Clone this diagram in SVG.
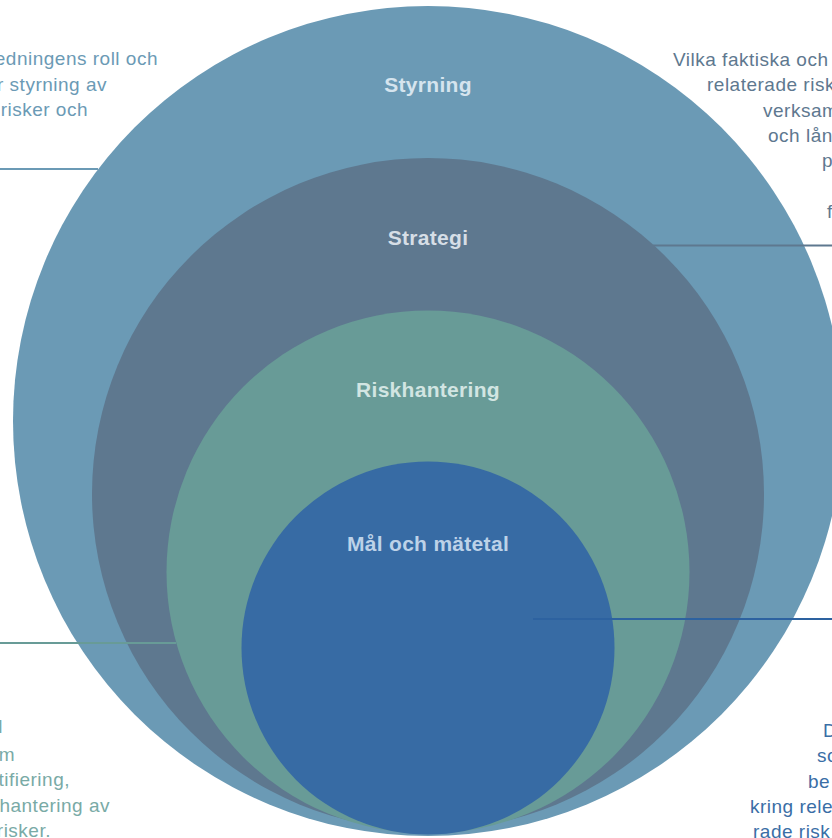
<svg xmlns="http://www.w3.org/2000/svg" width="832" height="838" viewBox="0 0 832 838">
<style>
.lbl{font-family:"Liberation Sans",Arial,sans-serif;font-weight:bold;font-size:21px;text-anchor:middle;letter-spacing:0.3px}
.body{font-family:"Liberation Sans",Arial,sans-serif;font-size:19px;letter-spacing:0.5px}
.end{text-anchor:end}
.conn{stroke-width:2.2;fill:none}
</style>
<rect width="832" height="838" fill="#ffffff"/>
<g id="node-styrning">
<circle cx="428" cy="421" r="415" fill="#6B9AB5"/>
<text class="lbl" x="428" y="92" fill="#D5E4EE">Styrning</text>
</g>
<g id="node-strategi">
<circle cx="428" cy="494" r="336" fill="#5E788F"/>
<text class="lbl" x="428" y="245" fill="#D6DEE6">Strategi</text>
</g>
<g id="node-riskhantering">
<circle cx="428" cy="572" r="261.5" fill="#689B97"/>
<text class="lbl" x="428" y="397" fill="#D2E5E2">Riskhantering</text>
</g>
<g id="node-mal">
<circle cx="428" cy="648" r="186.5" fill="#376BA4"/>
<text class="lbl" x="428" y="551" fill="#BDD2E8">Mål och mätetal</text>
</g>
<g id="connectors">
<line class="conn" x1="0" y1="169" x2="98" y2="169" stroke="#6B9AB5"/>
<line class="conn" x1="653" y1="245.5" x2="832" y2="245.5" stroke="#5E788F"/>
<line class="conn" x1="0" y1="643" x2="176" y2="643" stroke="#689B97"/>
<line class="conn" x1="533" y1="619" x2="832" y2="619" stroke="#2D62A0"/>
</g>
<g id="text-styrning" class="body end" fill="#6B9AB5">
<text x="158" y="65">edningens roll och</text>
<text x="107" y="90.5">r styrning av</text>
<text x="88" y="116">risker och</text>
</g>
<g id="text-strategi" class="body" fill="#5E788F">
<text x="673" y="65.5">Vilka faktiska och</text>
<text x="707" y="91">relaterade risk</text>
<text x="763" y="116.5">verksam</text>
<text x="768" y="142">och lån</text>
<text x="822" y="167">p</text>
<text x="827" y="218">f</text>
</g>
<g id="text-riskhantering" class="body end" fill="#79AAA6">
<text x="3" y="733">l</text>
<text x="15" y="761">m</text>
<text x="70" y="786">tifiering,</text>
<text x="110" y="811.5">hantering av</text>
<text x="51" y="837">risker.</text>
</g>
<g id="text-mal" class="body" fill="#3A6EA6">
<text x="823" y="737">D</text>
<text x="817" y="762">sc</text>
<text x="808" y="787.5">be</text>
<text x="750" y="813">kring rele</text>
<text x="753" y="838">rade risk</text>
</g>
</svg>
